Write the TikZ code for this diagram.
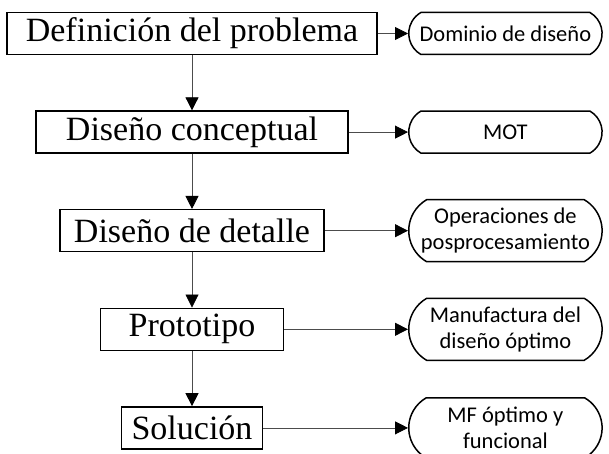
\documentclass[tikz,border=0pt]{standalone}
\usepackage{fontspec}
\setmainfont{Liberation Serif}
\newfontfamily\sidefont{Carlito}
\usetikzlibrary{positioning,shapes.misc,arrows.meta}

\begin{document}
\begin{tikzpicture}[node distance=55.1pt,
			etapa/.style = {draw, line width=1.5pt, minimum height=42pt, inner ysep=0pt, font=\fontsize{34}{40}\selectfont},
			salida/.style = {rounded rectangle, rounded rectangle arc length=120, draw, line width=1.5pt, minimum width=200pt, minimum height=42pt, inner ysep=3pt, align=center, font=\sidefont\fontsize{22.5}{26}\selectfont},
			flecha/.style = {-{Triangle[length=13pt,width=13pt,color=black]}, draw=black!70, line width=0.8pt}]
			
			\useasboundingbox (0,0) rectangle (609pt,-454pt);
			
			% etapas del proceso
			\node[etapa, minimum width=370pt] (def) at (192pt,-33.5pt) {Definición del problema};
			\node[etapa, minimum width=312pt, below=of def] (con) {Diseño conceptual};
			\node[etapa, minimum width=264pt, below=of con] (det) {Diseño de detalle};
			\node[etapa, minimum width=183pt, below=of det] (pro) {Prototipo};
			\node[etapa, minimum width=141pt, below=of pro] (sol) {Solución};
			
			% resultados
			\node[salida, right=216pt of def.center] (dom) {Dominio de diseño};
			\node[salida, right=216pt of con.center] (mot) {MOT};
			\node[salida, minimum height=62pt, right=216pt of det.center] (pos) {Operaciones de\\posprocesamiento};
			\node[salida, minimum height=62pt, right=216pt of pro.center] (man) {Manufactura del\\diseño óptimo};
			\node[salida, minimum height=60pt, right=216pt of sol.center] (mf) {MF óptimo y\\funcional};
			
			\draw[flecha] (def) -- (con);
			\draw[flecha] (con) -- (det);
			\draw[flecha] (det) -- (pro);
			\draw[flecha] (pro) -- (sol);
			
			\draw[flecha] (def) -- (dom);
			\draw[flecha] (con) -- (mot);
			\draw[flecha] (det) -- (pos);
			\draw[flecha] (pro) -- (man);
			\draw[flecha] (sol) -- (mf);
\end{tikzpicture}
\end{document}
